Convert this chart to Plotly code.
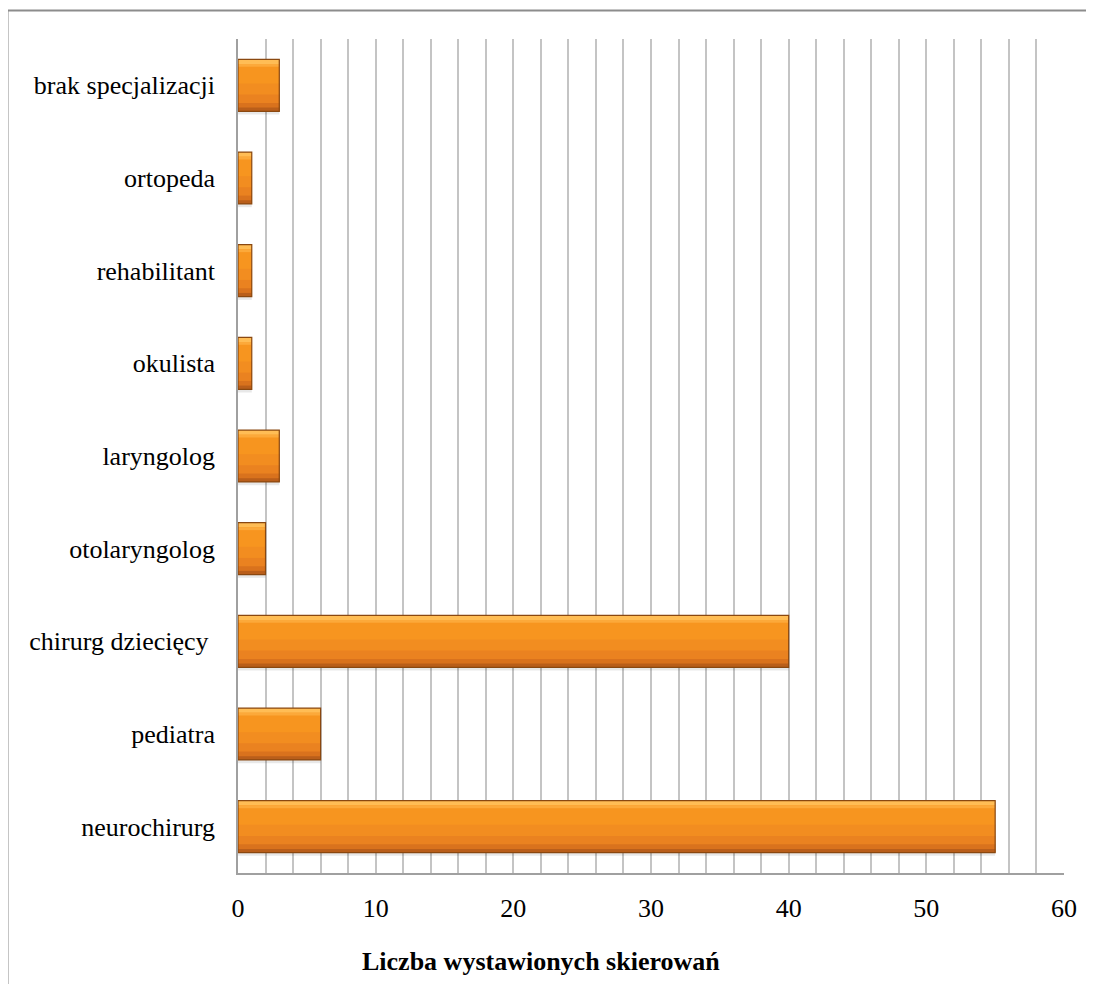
import plotly.graph_objects as go

categories = ["neurochirurg", "pediatra", "chirurg dziecięcy\u00a0", "otolaryngolog",
              "laryngolog", "okulista", "rehabilitant", "ortopeda", "brak specjalizacji"]
values = [55, 6, 40, 2, 3, 1, 1, 1, 3]
x_ticks = [0, 10, 20, 30, 40, 50, 60]
x_title = "Liczba wystawionych skierowań"

# page body has an 8px margin; positions below are measured in window pixels
OFF = 8
W, H = 1094 - OFF, 984 - OFF
ML = 238 - OFF
MT = 39 - OFF
MR = W - (1064 - OFF)
MB = H - (873 - OFF)
PW, PH = W - ML - MR, H - MT - MB

BW = 0.56
fig = go.Figure()
# soft shadow below
fig.add_trace(go.Bar(y=categories, x=values, orientation="h", width=0.035, offset=-BW / 2 - 0.035,
                     marker=dict(color="rgba(0,0,0,0.09)", line=dict(width=0)), hoverinfo="skip",
                     showlegend=False))
# body bands (top -> bottom shading)
bands = [
    (0.00, 0.56, "#F7951F"),
    (0.00, 0.30, "#F28D20"),
    (0.00, 0.18, "#EA8220"),
    (0.00, 0.09, "#D9721D"),
    (0.00, 0.04, "#B95E1A"),
    (0.51, 0.05, "#FFBD55"),
    (0.48, 0.03, "#FCA93A"),
]
for start, w, col in bands:
    fig.add_trace(go.Bar(y=categories, x=values, orientation="h", width=w, offset=-BW / 2 + start,
                         marker=dict(color=col, line=dict(width=0)), hoverinfo="skip",
                         showlegend=False))
# outline
fig.add_trace(go.Bar(y=categories, x=values, orientation="h", width=BW, offset=-BW / 2,
                     marker=dict(color="rgba(0,0,0,0)", line=dict(color="#8A4810", width=1.2)),
                     showlegend=False))

def px_to_paper_x(px):
    return (px - OFF - ML) / PW

def px_to_paper_y(py):
    return 1 - (py - OFF - MT) / PH

fig.add_shape(type="line", xref="paper", yref="paper",
              x0=px_to_paper_x(7), x1=px_to_paper_x(1110),
              y0=px_to_paper_y(10.5), y1=px_to_paper_y(10.5),
              line=dict(color="#8C8C8C", width=2))
fig.add_shape(type="line", xref="paper", yref="paper",
              x0=px_to_paper_x(7.5), x1=px_to_paper_x(7.5),
              y0=px_to_paper_y(10), y1=px_to_paper_y(1010),
              line=dict(color="#8C8C8C", width=2))

font = dict(family="Liberation Serif, Times New Roman, serif", color="black")
fig.add_annotation(text="<b>" + x_title + "</b>", xref="paper", yref="paper",
                   x=px_to_paper_x(541), y=px_to_paper_y(961), xanchor="center", yanchor="middle",
                   showarrow=False, font=dict(**font, size=26))

fig.update_layout(
    width=W, height=H,
    margin=dict(l=ML, r=MR, t=MT, b=MB),
    paper_bgcolor="white", plot_bgcolor="white",
    barmode="overlay",
    font=dict(**font, size=26),
    xaxis=dict(range=[0, 60], tickvals=x_ticks, showgrid=True, gridcolor="#C4C4C4", gridwidth=1.5,
               minor=dict(dtick=2, showgrid=True, gridcolor="#C4C4C4", gridwidth=1.5),
               showline=True, linecolor="#A0A0A0", linewidth=1.5, zeroline=False,
               ticks="", ticklabelstandoff=11, tickfont=dict(**font, size=26)),
    yaxis=dict(showgrid=False, showline=True, linecolor="#A0A0A0", linewidth=1.5,
               ticks="", ticklabelstandoff=16, tickfont=dict(**font, size=26),
               range=[-0.5, 8.5]),
)

fig.write_html("out.html")
